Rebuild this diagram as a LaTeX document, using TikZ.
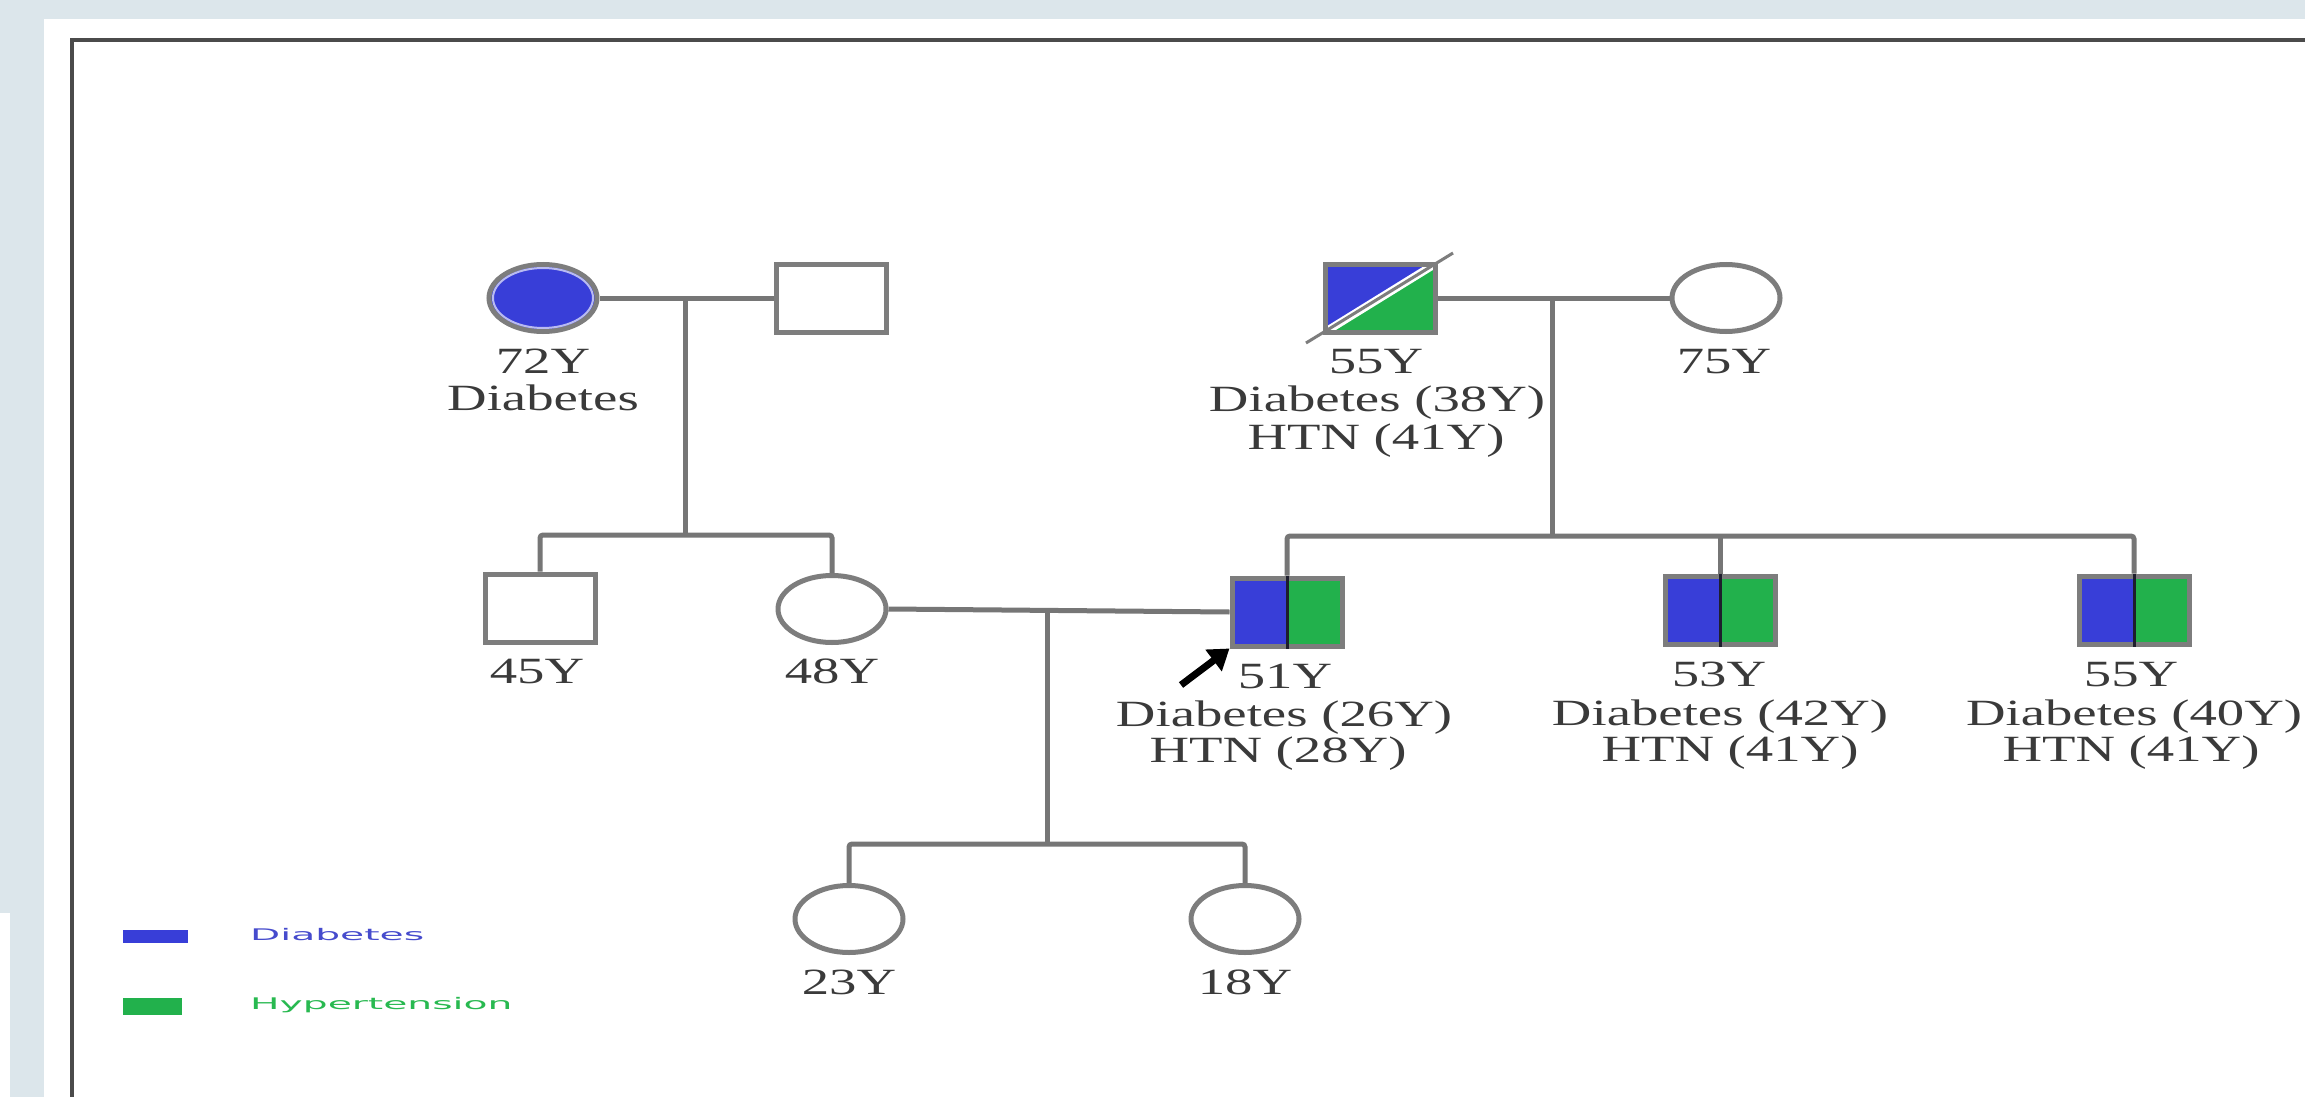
\documentclass[tikz,border=0pt]{standalone}
\usepackage{fontspec}
\setmainfont{Liberation Serif}
\newfontfamily\pedfont[FakeStretch=1.48]{Liberation Serif}
\newfontfamily\legfont[FakeStretch=2.45]{DejaVu Sans}
\usetikzlibrary{shapes.geometric,arrows.meta}
\definecolor{bgblue}{RGB}{220,230,235}
\definecolor{framegray}{RGB}{75,75,75}
\definecolor{linegray}{RGB}{118,118,118}
\definecolor{symgray}{RGB}{125,125,125}
\definecolor{dblue}{RGB}{56,62,216}
\definecolor{hgreen}{RGB}{34,177,76}
\definecolor{txtgray}{RGB}{58,58,58}
\definecolor{legblue}{RGB}{70,75,205}
\definecolor{leggreen}{RGB}{40,185,80}
\definecolor{innerline}{RGB}{30,30,45}
\tikzset{
  male/.style={rectangle, draw=symgray, line width=5pt, minimum width=110pt, minimum height=68pt, inner sep=0pt, fill=white},
  female/.style={ellipse, draw=symgray, line width=5pt, minimum width=108pt, minimum height=67pt, inner sep=0pt, fill=white},
  conn/.style={draw=linegray, line width=5pt, rounded corners=3pt},
  lbl/.style={anchor=base, text=txtgray, font=\pedfont\fontsize{37}{40}\selectfont, inner sep=0pt},
  splitfill/.style={path picture={
      \fill[dblue] (path picture bounding box.south west) rectangle (path picture bounding box.north);
      \fill[hgreen] (path picture bounding box.south) rectangle (path picture bounding box.north east);}},
  diagfill/.style={path picture={
      \fill[dblue] (path picture bounding box.north west) -- (path picture bounding box.north east) -- (path picture bounding box.south west) -- cycle;
      \fill[hgreen] (path picture bounding box.north east) -- (path picture bounding box.south east) -- (path picture bounding box.south west) -- cycle;
      \draw[white, line width=8pt] (path picture bounding box.south west) -- (path picture bounding box.north east);}},
  innerdiv/.style={draw=innerline, line width=3pt},
  legtext/.style={anchor=west, inner sep=0pt, font=\legfont\fontsize{16}{18}\selectfont},
  probandarrow/.style={draw=black, line width=7pt, -{Triangle[length=20pt,width=26pt]}},
}
\begin{document}
\begin{tikzpicture}[x=1pt, y=-1pt]
\useasboundingbox (0,0) rectangle (2305,1097);
% background and frame
\fill[bgblue] (0,0) rectangle (2305,1097);
\fill[white] (44,19) rectangle (2305,1097);
\fill[white] (0,913) rectangle (10,1097);
\draw[framegray, line width=4pt] (2305,40) -- (72,40) -- (72,1097);

% ---------- generation I ----------
\node[female, fill=dblue] (gm1) at (543,298) {};
\draw[white!65!dblue, line width=2pt] (543,298) ellipse (50 and 30);
\node[male] (gf1) at (831,298) {};
\node[male, diagfill] (gf2) at (1380,298) {};
\coordinate (slashA) at (1306,343);
\coordinate (slashB) at (1453,253);
\draw[symgray, line width=3pt] (slashA) -- (slashB);
\node[female] (gm2) at (1726,298) {};

% ---------- generation II ----------
\node[male] (p45) at (540,608) {};
\node[female] (p48) at (832,609) {};
\node[male, splitfill] (p51) at (1287,612) {};
\node[male, splitfill] (p53) at (1720,610) {};
\node[male, splitfill] (p55) at (2134,610) {};

% ---------- generation III ----------
\node[female] (c23) at (849,919) {};
\node[female] (c18) at (1245,919) {};

% ---------- connectors ----------
\coordinate (m1) at (685,299);
\coordinate (sib1) at (685,535);
\draw[conn] (gm1.east) -- (gf1.west);
\draw[conn] (m1) -- (sib1);
\draw[conn] (p45.north) |- (sib1) -| (p48.north);

\coordinate (m2) at (1552,298);
\coordinate (sib2) at (1552,536);
\draw[conn] (gf2.east) -- (gm2.west);
\draw[conn] (m2) -- (sib2);
\draw[conn] (p51.north) |- (sib2) -| (p55.north);
\draw[conn] (p53.north |- sib2) -- (p53.north);

\draw[innerdiv] (p51.north) -- (p51.south);
\draw[innerdiv] (p53.north) -- (p53.south);
\draw[innerdiv] (p55.north) -- (p55.south);

\coordinate (m3) at (1047,610);
\coordinate (sib3) at (1047,844);
\draw[conn] (p48.east) -- (p51.west);
\draw[conn] (m3) -- (sib3);
\draw[conn] (c23.north) |- (sib3) -| (c18.north);

% proband arrow
\coordinate (arrtail) at (1181,685);
\draw[probandarrow] (arrtail) -- (p51.south west);

% ---------- labels ----------
\node[lbl] (t72a) at (543,373) {72Y};
\node[lbl] (t72b) at (543,410) {Diabetes};
\node[lbl] (t55a) at (1376,373) {55Y};
\node[lbl] (t55b) at (1377,411) {Diabetes (38Y)};
\node[lbl] (t55c) at (1376,449) {HTN (41Y)};
\node[lbl] (t75) at (1724,373) {75Y};
\node[lbl] (t45) at (537,683) {45Y};
\node[lbl] (t48) at (832,683) {48Y};
\node[lbl] (t51a) at (1285,688) {51Y};
\node[lbl] (t51b) at (1284,726) {Diabetes (26Y)};
\node[lbl] (t51c) at (1278,762) {HTN (28Y)};
\node[lbl] (t53a) at (1719,686) {53Y};
\node[lbl] (t53b) at (1720,725) {Diabetes (42Y)};
\node[lbl] (t53c) at (1730,761) {HTN (41Y)};
\node[lbl] (t55ra) at (2131,686) {55Y};
\node[lbl] (t55rb) at (2134,725) {Diabetes (40Y)};
\node[lbl] (t55rc) at (2131,761) {HTN (41Y)};
\node[lbl] (t23) at (849,994) {23Y};
\node[lbl] (t18) at (1245,994) {18Y};

% ---------- legend ----------
\fill[dblue] (123,930) rectangle (188,943);
\node[legtext, text=legblue] (legD) at (250,935) {Diabetes};
\fill[hgreen] (123,998) rectangle (182,1015);
\node[legtext, text=leggreen] (legH) at (250,1005) {Hypertension};
\end{tikzpicture}
\end{document}
